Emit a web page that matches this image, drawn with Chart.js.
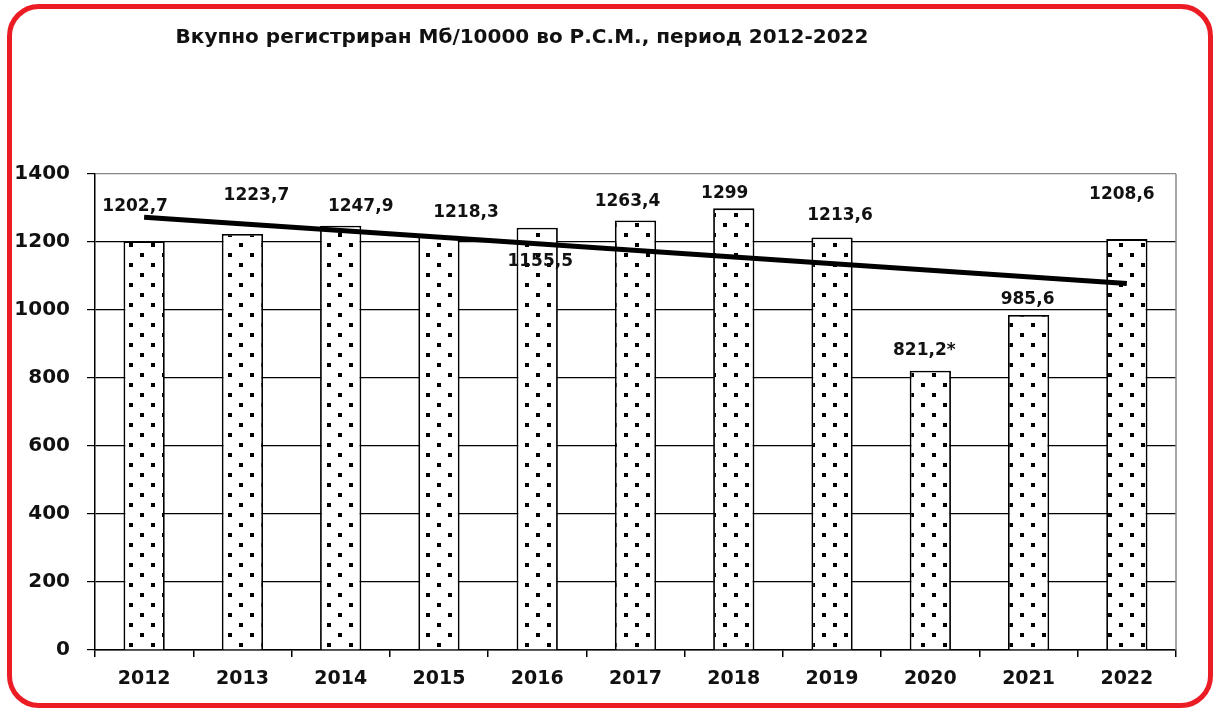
<!DOCTYPE html>
<html>
<head>
<meta charset="utf-8">
<script src="https://cdn.jsdelivr.net/npm/chart.js@4"></script>
<style>
  html, body { margin: 0; padding: 0; background: #fff; }
  #wrap { position: relative; width: 1213px; height: 710px; overflow: hidden; }
  #c { position: absolute; left: 0; top: 0; }
  #frame { position: absolute; left: 7px; top: 4px; width: 1196px; height: 694px;
           border: 5px solid #ec1c24; border-radius: 32px; pointer-events: none; }
</style>
</head>
<body>
<div id="wrap">
  <canvas id="c" width="1213" height="710"></canvas>
  <div id="frame"></div>
</div>
<script>
// ---- data ----
const titleText = "Вкупно регистриран Мб/10000 во Р.С.М., период 2012-2022";
const years = ["2012","2013","2014","2015","2016","2017","2018","2019","2020","2021","2022"];
const barValues = [1202.7, 1223.7, 1247.9, 1218.3, 1242, 1263.4, 1299, 1213.6, 821.2, 985.6, 1208.6];
const valueLabels = ["1202,7","1223,7","1247,9","1218,3","1155,5","1263,4","1299","1213,6","821,2*","985,6","1208,6"];
const trendValues = [1273, null, null, null, null, null, null, null, null, null, 1078];
const yTicks = [0, 200, 400, 600, 800, 1000, 1200, 1400];

// ---- label placement (style) ----
const labelOffsets = [[-9,-35],[14,-38],[20,-19],[27,-23],[3,34],[-8,-19],[-9,-15],[8,-22],[-6,-20],[-1,-15],[-5,-44]];

const FONT = "'DejaVu Sans', sans-serif";

function makePattern() {
  const p = document.createElement('canvas');
  p.width = 22; p.height = 20;
  const g = p.getContext('2d');
  g.fillStyle = '#fff'; g.fillRect(0, 0, 22, 20);
  g.fillStyle = '#000';
  g.fillRect(19, 3, 4, 4); g.fillRect(-3, 3, 4, 4);
  g.fillRect(8, 13, 4, 4);
  return document.getElementById('c').getContext('2d').createPattern(p, 'repeat');
}
const dots = makePattern();

const decor = {
  id: 'decor',
  beforeDatasetsDraw(chart) {
    const { ctx, chartArea: a } = chart;
    ctx.save();
    ctx.strokeStyle = '#888';
    ctx.lineWidth = 1.5;
    ctx.beginPath();
    ctx.moveTo(a.right, a.top); ctx.lineTo(a.right, a.bottom);
    ctx.stroke();
    ctx.restore();
  },
  afterDraw(chart) {
    const ctx = chart.ctx;
    ctx.save();
    ctx.fillStyle = '#111';
    ctx.font = "bold 20px " + FONT;
    ctx.textAlign = 'center';
    ctx.textBaseline = 'alphabetic';
    ctx.fillText(titleText, 522, 43);
    const meta = chart.getDatasetMeta(1);
    ctx.font = "bold 17px " + FONT;
    ctx.textBaseline = 'middle';
    meta.data.forEach((bar, i) => {
      const [dx, dy] = labelOffsets[i];
      ctx.fillText(valueLabels[i], bar.x + dx, bar.y + dy);
    });
    ctx.restore();
  }
};

new Chart(document.getElementById('c'), {
  data: {
    labels: years,
    datasets: [
      {
        type: 'line',
        data: trendValues,
        borderColor: '#000',
        borderWidth: 5,
        pointRadius: 0,
        spanGaps: true,
        fill: false,
        order: 0
      },
      {
        type: 'bar',
        data: barValues,
        backgroundColor: dots,
        borderColor: '#000',
        borderWidth: 1.8,
        barPercentage: 0.42,
        categoryPercentage: 1,
        order: 1
      }
    ]
  },
  options: {
    responsive: false,
    animation: false,
    events: [],
    layout: { padding: { top: 174, right: 37, left: 0, bottom: 0 } },
    plugins: { legend: { display: false }, title: { display: false }, tooltip: { enabled: false } },
    scales: {
      x: {
        type: 'category',
        offset: true,
        grid: { offset: true, drawOnChartArea: false, drawTicks: true, tickLength: 7, color: '#000', lineWidth: 1.5 },
        border: { color: '#000', width: 1.5 },
        ticks: { color: '#111', font: { family: FONT, size: 19, weight: 'bold' }, padding: 11, maxRotation: 0 },
        afterFit(s) { s.height = 60; }
      },
      y: {
        min: 0, max: 1400,
        afterBuildTicks(s) { s.ticks = yTicks.map(v => ({ value: v })); },
        grid: {
          color: c => (c.tick && c.tick.value === 1400) ? '#888' : '#000',
          tickColor: '#000',
          lineWidth: 1.2,
          tickLength: 8
        },
        border: { color: '#000', width: 1.5 },
        ticks: { color: '#111', font: { family: FONT, size: 20, weight: 'bold' }, padding: 17,
                 callback: v => String(v) },
        afterFit(s) { s.width = 95; }
      }
    }
  },
  plugins: [decor]
});
</script>
</body>
</html>
